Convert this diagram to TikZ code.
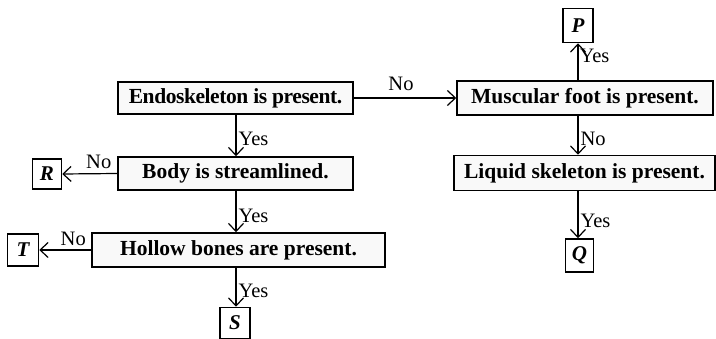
\documentclass[tikz,border=0pt]{standalone}
\usepackage{fontspec}
\setmainfont{Liberation Serif}
\usetikzlibrary{arrows.meta}
\begin{document}
\begin{tikzpicture}[x=1pt,y=-1pt,
  box/.style={draw,line width=1.5pt,fill=gray!5,inner sep=0pt,font=\fontsize{21.5}{21.5}\selectfont\bfseries},
  lbox/.style={draw,line width=1.5pt,inner sep=0pt,font=\fontsize{21}{21}\selectfont\bfseries\itshape},
  conn/.style={line width=1.2pt,-{Straight Barb[length=8pt,width=15pt,line width=1.2pt]}},
  lab/.style={font=\fontsize{20.5}{20.5}\selectfont,inner sep=1pt}]
\useasboundingbox (0,0) rectangle (716,339);
\node[box,minimum width=235,minimum height=32] (endo) at (235.5,98) {\addfontfeature{LetterSpace=-2}Endoskeleton is present.};
\node[box,minimum width=235,minimum height=33] (body) at (235.5,173.5) {Body is streamlined.};
\node[box,minimum width=293,minimum height=34] (hollow) at (238.5,250) {Hollow bones are present.};
\node[box,minimum width=256,minimum height=34] (musc) at (585,98) {Muscular foot is present.};
\node[box,minimum width=261,minimum height=35] (liq) at (584.5,173) {Liquid skeleton is present.};
\node[lbox,minimum width=29,minimum height=30] (R) at (47,174) {R};
\node[lbox,minimum width=31,minimum height=32] (T) at (23,250) {T};
\node[lbox,minimum width=30,minimum height=31] (S) at (235,323) {S};
\node[lbox,minimum width=30,minimum height=34] (P) at (578,25.5) {P};
\node[lbox,minimum width=28,minimum height=33] (Q) at (579.5,255.5) {Q};
\draw[conn] (endo.south -| 236,0) -- (body.north -| 236,0) node[lab,midway,right,xshift=1,yshift=-3] {Yes};
\draw[conn] (body.south -| 236,0) -- (hollow.north -| 236,0) node[lab,midway,right,xshift=1,yshift=-4] {Yes};
\draw[conn] (hollow.south -| 236,0) -- (S.north -| 236,0) node[lab,midway,right,xshift=1,yshift=-4] {Yes};
\draw[conn] (body.west) -- (R.east) node[lab,midway,above,xshift=9,yshift=3] {No};
\draw[conn] (hollow.west) -- (T.east) node[lab,midway,above,xshift=8,yshift=3] {No};
\draw[conn] (endo.east) -- (musc.west) node[lab,midway,above,xshift=-4,yshift=6] {No};
\draw[conn] (musc.north -| 578,0) -- (P.south -| 578,0) node[lab,midway,right,xshift=0,yshift=6] {Yes};
\draw[conn] (musc.south -| 578,0) -- (liq.north -| 578,0) node[lab,midway,right,xshift=1,yshift=-4] {No};
\draw[conn] (liq.south -| 578,0) -- (Q.north -| 578,0) node[lab,midway,right,xshift=1,yshift=-6] {Yes};
\end{tikzpicture}
\end{document}
